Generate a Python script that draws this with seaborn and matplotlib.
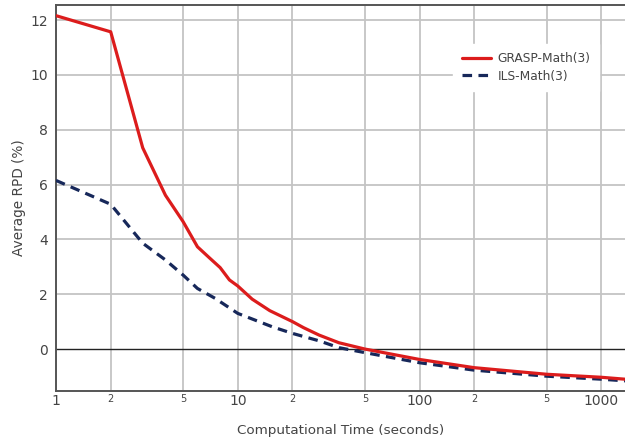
import numpy as np
import pandas as pd
import matplotlib
matplotlib.use("Agg")
import matplotlib.pyplot as plt
import seaborn as sns
from matplotlib.ticker import FixedLocator

# ── Data ─────────────────────────────────────────────────────────────────────
grasp_time = [1, 2, 3, 4, 5, 6, 7, 8, 9, 10, 12, 15, 20, 23, 28, 36, 50,
              100, 200, 500, 1000, 1350]
grasp_rpd = [12.16, 11.57, 7.34, 5.61, 4.65, 3.73, 3.32, 2.97, 2.52, 2.30, 1.82,
             1.40, 1.00, 0.78, 0.51, 0.23, 0.00, -0.38, -0.68, -0.92, -1.03, -1.10]

ils_time = [1, 2, 3, 4, 5, 6, 7.5, 10, 15.5, 20, 28, 36, 50,
            100, 200, 500, 1000, 1350]
ils_rpd = [6.15, 5.28, 3.86, 3.25, 2.70, 2.21, 1.85, 1.30, 0.81, 0.57, 0.30,
           0.05, -0.13, -0.50, -0.77, -0.99, -1.10, -1.16]

major_ticks = [1, 10, 100, 1000]
minor_ticks = [2, 5, 20, 50, 200, 500]
y_ticks = [0, 2, 4, 6, 8, 10, 12]

RED = "#dc1c1c"
NAVY = "#17285a"
GRID = "#c4c4c4"
TXT = "#444444"

sns.set_style("white")
plt.rcParams["font.family"] = ["DejaVu Sans"]

fig = plt.figure(figsize=(6.25, 4.4), dpi=100)
ax = fig.add_axes([0.0896, 0.1114, 0.9104, 0.8773])

sns.lineplot(x=grasp_time, y=grasp_rpd, ax=ax, color=RED, lw=2.3,
             label="GRASP-Math(3)", zorder=4)
sns.lineplot(x=ils_time, y=ils_rpd, ax=ax, color=NAVY, lw=2.3,
             label="ILS-Math(3)", zorder=3)
ax.lines[1].set_dashes((3, 2))

ax.set_xscale("log")
ax.set_xlim(1, 1350)
ax.set_ylim(-1.53, 12.55)

# grid lines at every tick (like the original)
for v in major_ticks + minor_ticks:
    ax.axvline(v, color=GRID, lw=1.3, zorder=1)
for v in y_ticks:
    if v != 0:
        ax.axhline(v, color=GRID, lw=1.3, zorder=1)
ax.axhline(0, color="#222222", lw=1.0, zorder=2)

ax.xaxis.set_major_locator(FixedLocator(major_ticks))
ax.set_xticklabels([str(t) for t in major_ticks])
ax.set_xticks(minor_ticks, minor=True)
ax.set_xticklabels(["2", "5", "2", "5", "2", "5"], minor=True)
ax.tick_params(axis="x", which="major", labelsize=10, colors=TXT, length=0, pad=2)
ax.tick_params(axis="x", which="minor", labelsize=7, colors=TXT, length=0, pad=2)
ax.set_yticks(y_ticks)
ax.tick_params(axis="y", labelsize=10, colors=TXT, length=0, pad=6)

for side in ["left", "bottom", "top"]:
    ax.spines[side].set_color("#555555")
    ax.spines[side].set_linewidth(1.4)
ax.spines["right"].set_visible(False)

ax.set_xlabel("Computational Time (seconds)", fontsize=9.7, color=TXT, labelpad=12)
ax.set_ylabel("Average RPD (%)", fontsize=9.8, color=TXT, labelpad=3)

leg = ax.legend(loc="upper right", bbox_to_anchor=(0.965, 0.915), frameon=True,
                fontsize=8.8, handlelength=2.4, borderpad=0.7, labelspacing=0.35,
                handletextpad=0.5)
leg.get_frame().set_facecolor("white")
leg.get_frame().set_edgecolor("white")
leg.get_frame().set_alpha(1)
leg.get_frame().set_boxstyle("square", pad=0)
for t in leg.get_texts():
    t.set_color(TXT)
leg.set_zorder(10)

fig.savefig("out.png", dpi=100)
